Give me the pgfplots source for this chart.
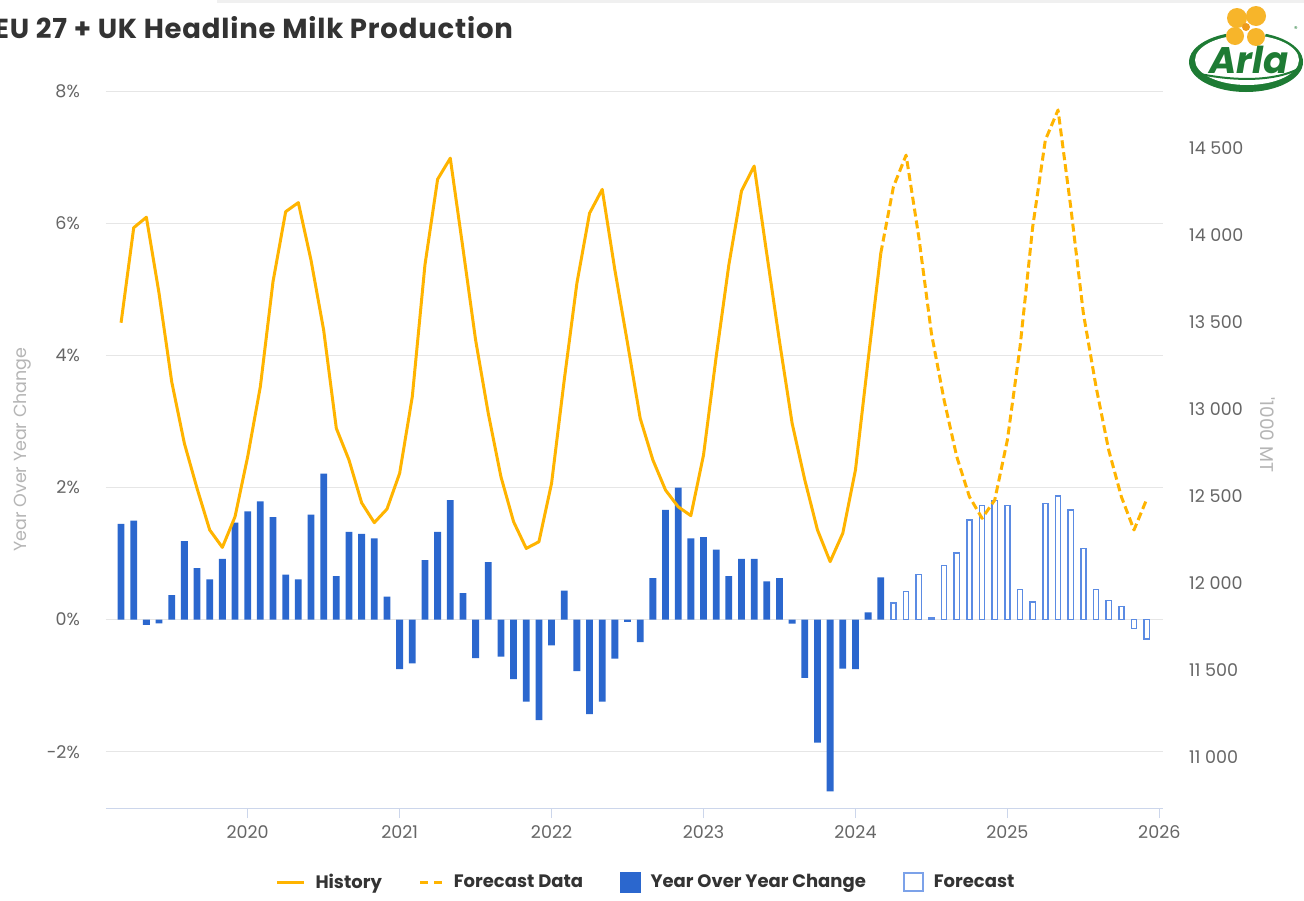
\documentclass[border=0pt]{standalone}
\usepackage{pgfplots}
\usepackage{pgfplotstable}
\pgfplotsset{compat=1.18}
\usepackage{fontspec}
\setmainfont{Poppins}
\newfontfamily\titlefont{Poppins}[LetterSpace=3]

\definecolor{milkyellow}{HTML}{FFB400}
\definecolor{barblue}{HTML}{2B67CE}
\definecolor{fcblue}{HTML}{5B8BE3}
\definecolor{gridgrey}{HTML}{E6E6E6}
\definecolor{axisline}{HTML}{CCD6EB}
\definecolor{ticktext}{HTML}{666666}
\definecolor{labelgrey}{HTML}{B5B5B5}
\definecolor{titletext}{HTML}{333333}
\definecolor{arlagreen}{HTML}{1E7B34}
\definecolor{arlayellow}{HTML}{F7B52A}
\definecolor{arlaorange}{HTML}{EE9A1B}

% legend samples
\pgfplotsset{
  histlegend/.style={legend image code/.code={\draw[milkyellow, line width=3pt] (0pt,0pt) -- (27pt,0pt);}},
  fclinelegend/.style={legend image code/.code={\draw[milkyellow, line width=3pt, dash pattern=on 8pt off 6pt] (0pt,0pt) -- (22pt,0pt);}},
  yoylegend/.style={legend image code/.code={\fill[barblue] (0pt,-10pt) rectangle (20pt,10pt);}},
  fcbarlegend/.style={legend image code/.code={\draw[fcblue!80!white, line width=2pt, fill=white] (1pt,-9pt) rectangle (20pt,9pt);}},
}

% month index: 0 = Jan 2019
\pgfplotstableread{
m   yoy
2   1.45
3   1.50
4   -0.08
5   -0.055
6   0.37
7   1.19
8   0.78
9   0.61
10  0.92
11  1.47
12  1.64
13  1.79
14  1.55
15  0.68
16  0.61
17  1.59
18  2.21
19  0.66
20  1.33
21  1.30
22  1.23
23  0.35
24  -0.75
25  -0.66
26  0.90
27  1.33
28  1.81
29  0.40
30  -0.58
31  0.87
32  -0.56
33  -0.90
34  -1.24
35  -1.52
36  -0.39
37  0.44
38  -0.78
39  -1.43
40  -1.24
41  -0.59
42  -0.035
43  -0.34
44  0.63
45  1.66
46  2.00
47  1.23
48  1.25
49  1.06
50  0.66
51  0.92
52  0.92
53  0.58
54  0.63
55  -0.06
56  -0.88
57  -1.86
58  -2.60
59  -0.74
60  -0.75
61  0.11
62  0.64
}\yoyhist

\pgfplotstableread{
m   yoy
63  0.25
64  0.43
65  0.68
66  0.025
67  0.82
68  1.01
69  1.51
70  1.73
71  1.80
72  1.73
73  0.46
74  0.27
75  1.76
76  1.87
77  1.66
78  1.08
79  0.46
80  0.29
81  0.20
82  -0.13
83  -0.29
}\yoyfc

\pgfplotstableread{
m   prod
2   13496
3   14042
4   14102
5   13665
6   13157
7   12803
8   12545
9   12306
10  12206
11  12382
12  12727
13  13129
14  13732
15  14134
16  14186
17  13856
18  13454
19  12890
20  12708
21  12462
22  12348
23  12426
24  12631
25  13071
26  13828
27  14320
28  14441
29  13924
30  13397
31  12976
32  12612
33  12353
34  12200
35  12238
36  12574
37  13167
38  13723
39  14125
40  14262
41  13799
42  13378
43  12947
44  12708
45  12535
46  12439
47  12388
48  12736
49  13301
50  13828
51  14253
52  14396
53  13890
54  13390
55  12918
56  12593
57  12306
58  12124
59  12287
60  12650
61  13282
62  13895
}\prodhist

\pgfplotstableread{
m   prod
62  13895
63  14277
64  14459
65  13990
66  13435
67  13052
68  12727
69  12497
70  12373
71  12478
72  12823
73  13358
74  14048
75  14546
76  14718
77  14163
78  13550
79  13129
80  12765
81  12497
82  12306
83  12482
}\prodfc

\begin{document}
\begin{tikzpicture}
\useasboundingbox (0,0) rectangle (1304pt,-900pt);
\clip (0,0) rectangle (1304pt,-900pt);
\fill[white] (0,0) rectangle (1304pt,-900pt);
\fill[black!6] (217pt,0pt) rectangle (1304pt,-2.5pt);

% title
\node[anchor=base west, inner sep=0pt, text=titletext,
      font=\titlefont\fontsize{27.5}{30}\selectfont\bfseries]
  at (-6pt,-38.5pt) {EU 27 + UK Headline Milk Production};

% year-over-year change, left axis
\begin{axis}[
  at={(106pt,-808pt)}, anchor=south west,
  width=1057pt, height=717pt, scale only axis,
  xmin=0.81, xmax=84.29,
  ymin=-2.85, ymax=8,
  axis x line*=bottom, axis y line*=left,
  x axis line style={-, draw=axisline, line width=1pt},
  y axis line style={draw=none},
  xtick={12,24,36,48,60,72,84},
  xticklabels={2020,2021,2022,2023,2024,2025,2026},
  xtick align=outside,
  major x tick style={draw=axisline, line width=1pt},
  major tick length=10pt,
  ytick={-2,0,2,4,6,8},
  yticklabels={-2\%,0\%,2\%,4\%,6\%,8\%},
  major y tick style={draw=none},
  ymajorgrids,
  grid style={draw=gridgrey, line width=1pt},
  tick label style={font=\fontsize{17.5}{20}\selectfont, text=ticktext},
  yticklabel style={anchor=east, inner sep=0pt, xshift=-26pt},
  xticklabel style={inner sep=0pt, yshift=-7pt},
  ylabel={Year Over Year Change},
  ylabel style={at={(axis description cs:-0.0795,0.5)}, anchor=center,
                font=\fontsize{17.5}{20}\selectfont, text=labelgrey},
  clip=false,
]
\addplot[ybar, bar width=6.8pt, bar shift=0pt, fill=barblue, draw=none]
  table[x=m, y=yoy] {\yoyhist};
\addplot[ybar, bar width=5.2pt, bar shift=0pt, fill=white, draw=fcblue, line width=1.5pt]
  table[x=m, y=yoy] {\yoyfc};
\end{axis}

% headline production, right axis
\begin{axis}[
  at={(106pt,-808pt)}, anchor=south west,
  width=1057pt, height=717pt, scale only axis,
  xmin=0.81, xmax=84.29,
  ymin=10709, ymax=14827,
  hide x axis,
  axis y line*=right,
  y axis line style={draw=none},
  scaled y ticks=false,
  ytick={11000,11500,12000,12500,13000,13500,14000,14500},
  yticklabels={11 000,11 500,12 000,12 500,13 000,13 500,14 000,14 500},
  major y tick style={draw=none},
  tick label style={font=\fontsize{17.5}{20}\selectfont, text=ticktext},
  yticklabel style={anchor=west, inner sep=0pt, xshift=26pt},
  ylabel={\textquotesingle 1000 MT},
  ylabel style={at={(axis description cs:1.0993,0.52)}, anchor=center, rotate=180,
                font=\fontsize{18.5}{20}\selectfont, text=labelgrey},
  legend columns=-1,
  legend style={at={(axis description cs:0.5099,-0.1032)}, anchor=center,
                draw=none, fill=none,
                font=\fontsize{18}{20}\selectfont\bfseries, text=titletext,
                nodes={inner sep=0pt},
                /tikz/every odd column/.append style={column sep=10pt},
                /tikz/every even column/.append style={column sep=37pt}},
]
\addplot[milkyellow, line width=3pt, line join=round, forget plot]
  table[x=m, y=prod] {\prodhist};
\addplot[milkyellow, line width=3pt, line join=round, dash pattern=on 8pt off 4pt, forget plot]
  table[x=m, y=prod] {\prodfc};

\addlegendimage{histlegend}
\addlegendentry{History}
\addlegendimage{fclinelegend}
\addlegendentry{Forecast Data}
\addlegendimage{yoylegend}
\addlegendentry{Year Over Year Change}
\addlegendimage{fcbarlegend}
\addlegendentry{Forecast}
\end{axis}

% Arla logo
\begin{scope}
  \fill[arlagreen] (1246pt,-62pt) ellipse [x radius=57pt, y radius=30pt];
  \fill[white] (1247pt,-60pt) ellipse [x radius=52pt, y radius=25pt];
  \draw[arlagreen, line width=2pt] (1200pt,-74pt) .. controls (1240pt,-82pt) and (1275pt,-80pt) .. (1296pt,-70pt);
  \fill[white] (1246pt,-27pt) circle [radius=21pt];
  \fill[arlayellow] (1237pt,-18pt) circle [radius=10pt];
  \fill[arlayellow] (1256pt,-16pt) circle [radius=10pt];
  \fill[arlayellow] (1235pt,-36pt) circle [radius=9pt];
  \fill[arlayellow] (1256pt,-37pt) circle [radius=9pt];
  \fill[arlaorange] (1246pt,-27pt) circle [radius=4pt];
  \node[text=arlagreen, font=\fontsize{37}{40}\selectfont\bfseries\itshape, inner sep=0pt]
    at (1249pt,-60pt) {Arla};
  \node[text=arlagreen, font=\fontsize{7}{8}\selectfont, inner sep=0pt] at (1296pt,-29pt) {®};
\end{scope}
\end{tikzpicture}
\end{document}
